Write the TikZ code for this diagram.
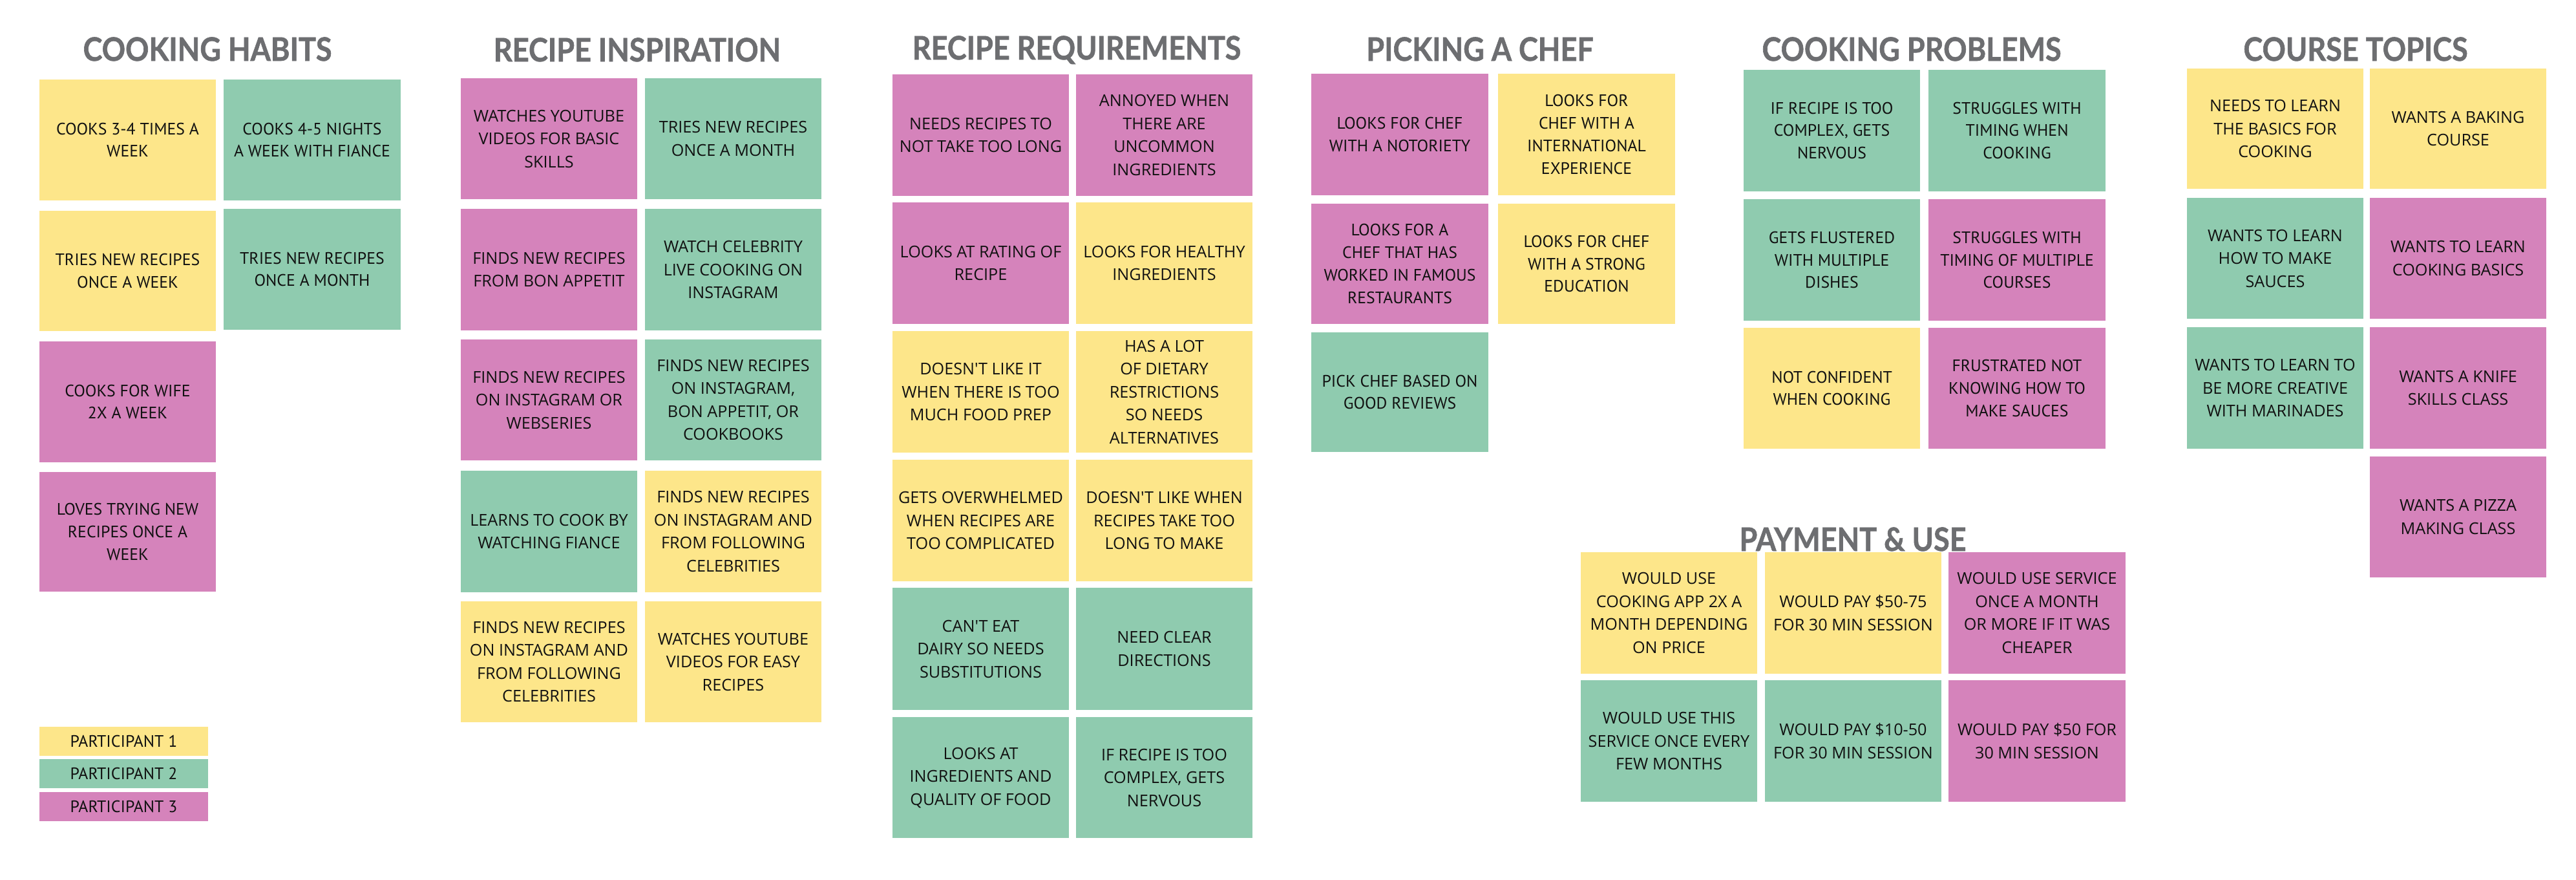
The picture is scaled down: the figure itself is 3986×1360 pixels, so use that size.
\documentclass[tikz,border=0pt]{standalone}
\usepackage{fontspec}
\newfontfamily\fN{PT Sans}
\newfontfamily\fW{Open Sans}
\newfontfamily\fT{Lato}[FakeStretch=0.9,BoldFeatures={FakeBold=1.2}]
\definecolor{cy}{HTML}{FDE68A}
\definecolor{cg}{HTML}{8FCBAF}
\definecolor{cp}{HTML}{D583BB}
\definecolor{ttl}{HTML}{6D6E71}
\definecolor{txt}{HTML}{111111}
\tikzset{
  card/.style={inner sep=0pt, outer sep=0pt, align=center, text=txt},
  cardN/.style={card, font={\fN\fontsize{25.7}{34.7}\selectfont}},
  cardW/.style={card, font={\fW\fontsize{25.2}{35.5}\selectfont}},
  ttlstyle/.style={anchor=base, inner sep=0pt, text=ttl, font={\fT\bfseries\fontsize{50}{55}\selectfont}},
  legend/.style={cardN}
}
\newcommand\card[8]{\node[#1, fill=#7, minimum width={#5-#3}, minimum height={#6-#4}] (#2) at ({(#3+#5)/2},{(#4+#6)/2}) {#8};}
\begin{document}
\begin{tikzpicture}[x=1pt,y=-1pt]
\useasboundingbox[fill=white] (0,0) rectangle (3986,1360);
% titles
\node[ttlstyle] (tch) at (321,94) {COOKING HABITS};
\node[ttlstyle] (tri) at (986,95) {RECIPE INSPIRATION};
\node[ttlstyle] (trr) at (1666,92) {RECIPE REQUIREMENTS};
\node[ttlstyle] (tpc) at (2290,94) {PICKING A CHEF};
\node[ttlstyle] (tcp) at (2958,94) {COOKING PROBLEMS};
\node[ttlstyle] (tct) at (3645,94) {COURSE TOPICS};
\node[ttlstyle] (tpu) at (2867,852) {PAYMENT \& USE};
% cooking habits
\card{cardN}{ch1}{61}{123}{334}{310}{cy}{COOKS 3-4 TIMES A\\WEEK}
\card{cardN}{ch2}{346}{123}{620}{310}{cg}{COOKS 4-5 NIGHTS\\A WEEK WITH FIANCE}
\card{cardN}{ch3}{61}{326}{334}{512}{cy}{TRIES NEW RECIPES\\ONCE A WEEK}
\card{cardN}{ch4}{346}{323}{620}{510}{cg}{TRIES NEW RECIPES\\ONCE A MONTH}
\card{cardN}{ch5}{61}{528}{334}{715}{cp}{COOKS FOR WIFE\\2X A WEEK}
\card{cardN}{ch6}{61}{730}{334}{915}{cp}{LOVES TRYING NEW\\RECIPES ONCE A\\WEEK}
% legend
\card{legend}{lg1}{61}{1124}{322}{1169}{cy}{PARTICIPANT 1}
\card{legend}{lg2}{61}{1174}{322}{1219}{cg}{PARTICIPANT 2}
\card{legend}{lg3}{61}{1225}{322}{1270}{cp}{PARTICIPANT 3}
% recipe inspiration
\card{cardW}{ri1}{713}{121}{986}{308}{cp}{WATCHES YOUTUBE\\VIDEOS FOR BASIC\\SKILLS}
\card{cardW}{ri2}{998}{121}{1271}{308}{cg}{TRIES NEW RECIPES\\ONCE A MONTH}
\card{cardW}{ri3}{713}{323}{986}{511}{cp}{FINDS NEW RECIPES\\FROM BON APPETIT}
\card{cardW}{ri4}{998}{323}{1271}{511}{cg}{WATCH CELEBRITY\\LIVE COOKING ON\\INSTAGRAM}
\card{cardW}{ri5}{713}{525}{986}{712}{cp}{FINDS NEW RECIPES\\ON INSTAGRAM OR\\WEBSERIES}
\card{cardW}{ri6}{998}{525}{1271}{712}{cg}{FINDS NEW RECIPES\\ON INSTAGRAM,\\BON APPETIT, OR\\COOKBOOKS}
\card{cardW}{ri7}{713}{728}{986}{916}{cg}{LEARNS TO COOK BY\\WATCHING FIANCE}
\card{cardW}{ri8}{998}{728}{1271}{916}{cy}{FINDS NEW RECIPES\\ON INSTAGRAM AND\\FROM FOLLOWING\\CELEBRITIES}
\card{cardW}{ri9}{713}{930}{986}{1117}{cy}{FINDS NEW RECIPES\\ON INSTAGRAM AND\\FROM FOLLOWING\\CELEBRITIES}
\card{cardW}{ri10}{998}{930}{1271}{1117}{cy}{WATCHES YOUTUBE\\VIDEOS FOR EASY\\RECIPES}
% recipe requirements
\card{cardW}{rr1}{1381}{115}{1654}{303}{cp}{NEEDS RECIPES TO\\NOT TAKE TOO LONG}
\card{cardW}{rr2}{1665}{115}{1938}{303}{cp}{ANNOYED WHEN\\THERE ARE\\UNCOMMON\\INGREDIENTS}
\card{cardW}{rr3}{1381}{313}{1654}{501}{cp}{LOOKS AT RATING OF\\RECIPE}
\card{cardW}{rr4}{1665}{313}{1938}{501}{cy}{LOOKS FOR HEALTHY\\INGREDIENTS}
\card{cardW}{rr5}{1381}{512}{1654}{700}{cy}{DOESN'T LIKE IT\\WHEN THERE IS TOO\\MUCH FOOD PREP}
\card{cardW}{rr6}{1665}{512}{1938}{700}{cy}{HAS A LOT\\OF DIETARY\\RESTRICTIONS\\SO NEEDS\\ALTERNATIVES}
\card{cardW}{rr7}{1381}{711}{1654}{899}{cy}{GETS OVERWHELMED\\WHEN RECIPES ARE\\TOO COMPLICATED}
\card{cardW}{rr8}{1665}{711}{1938}{899}{cy}{DOESN'T LIKE WHEN\\RECIPES TAKE TOO\\LONG TO MAKE}
\card{cardW}{rr9}{1381}{909}{1654}{1098}{cg}{CAN'T EAT\\DAIRY SO NEEDS\\SUBSTITUTIONS}
\card{cardW}{rr10}{1665}{909}{1938}{1098}{cg}{NEED CLEAR\\DIRECTIONS}
\card{cardW}{rr11}{1381}{1109}{1654}{1296}{cg}{LOOKS AT\\INGREDIENTS AND\\QUALITY OF FOOD}
\card{cardW}{rr12}{1665}{1109}{1938}{1296}{cg}{IF RECIPE IS TOO\\COMPLEX, GETS\\NERVOUS}
% picking a chef
\card{cardN}{pc1}{2029}{114}{2303}{302}{cp}{LOOKS FOR CHEF\\WITH A NOTORIETY}
\card{cardN}{pc2}{2318}{114}{2592}{302}{cy}{LOOKS FOR\\CHEF WITH A\\INTERNATIONAL\\EXPERIENCE}
\card{cardN}{pc3}{2029}{315}{2303}{501}{cp}{LOOKS FOR A\\CHEF THAT HAS\\WORKED IN FAMOUS\\RESTAURANTS}
\card{cardN}{pc4}{2318}{315}{2592}{501}{cy}{LOOKS FOR CHEF\\WITH A STRONG\\EDUCATION}
\card{cardN}{pc5}{2029}{514}{2303}{699}{cg}{PICK CHEF BASED ON\\GOOD REVIEWS}
% cooking problems
\card{cardN}{cp1}{2698}{108}{2971}{296}{cg}{IF RECIPE IS TOO\\COMPLEX, GETS\\NERVOUS}
\card{cardN}{cp2}{2984}{108}{3258}{296}{cg}{STRUGGLES WITH\\TIMING WHEN\\COOKING}
\card{cardN}{cp3}{2698}{308}{2971}{496}{cg}{GETS FLUSTERED\\WITH MULTIPLE\\DISHES}
\card{cardN}{cp4}{2984}{308}{3258}{496}{cp}{STRUGGLES WITH\\TIMING OF MULTIPLE\\COURSES}
\card{cardN}{cp5}{2698}{507}{2971}{694}{cy}{NOT CONFIDENT\\WHEN COOKING}
\card{cardN}{cp6}{2984}{507}{3258}{694}{cp}{FRUSTRATED NOT\\KNOWING HOW TO\\MAKE SAUCES}
% course topics
\card{cardW}{ct1}{3384}{106}{3657}{292}{cy}{NEEDS TO LEARN\\THE BASICS FOR\\COOKING}
\card{cardW}{ct2}{3667}{106}{3940}{292}{cy}{WANTS A BAKING\\COURSE}
\card{cardW}{ct3}{3384}{306}{3657}{493}{cg}{WANTS TO LEARN\\HOW TO MAKE\\SAUCES}
\card{cardW}{ct4}{3667}{306}{3940}{493}{cp}{WANTS TO LEARN\\COOKING BASICS}
\card{cardW}{ct5}{3384}{506}{3657}{694}{cg}{WANTS TO LEARN TO\\BE MORE CREATIVE\\WITH MARINADES}
\card{cardW}{ct6}{3667}{506}{3940}{694}{cp}{WANTS A KNIFE\\SKILLS CLASS}
\card{cardW}{ct7}{3667}{706}{3940}{893}{cp}{WANTS A PIZZA\\MAKING CLASS}
% payment & use
\card{cardW}{pu1}{2446}{854}{2719}{1042}{cy}{WOULD USE\\COOKING APP 2X A\\MONTH DEPENDING\\ON PRICE}
\card{cardW}{pu2}{2731}{854}{3004}{1042}{cy}{WOULD PAY \$50-75\\FOR 30 MIN SESSION}
\card{cardW}{pu3}{3015}{854}{3289}{1042}{cp}{WOULD USE SERVICE\\ONCE A MONTH\\OR MORE IF IT WAS\\CHEAPER}
\card{cardW}{pu4}{2446}{1052}{2719}{1240}{cg}{WOULD USE THIS\\SERVICE ONCE EVERY\\FEW MONTHS}
\card{cardW}{pu5}{2731}{1052}{3004}{1240}{cg}{WOULD PAY \$10-50\\FOR 30 MIN SESSION}
\card{cardW}{pu6}{3015}{1052}{3289}{1240}{cp}{WOULD PAY \$50 FOR\\30 MIN SESSION}
\end{tikzpicture}
\end{document}
